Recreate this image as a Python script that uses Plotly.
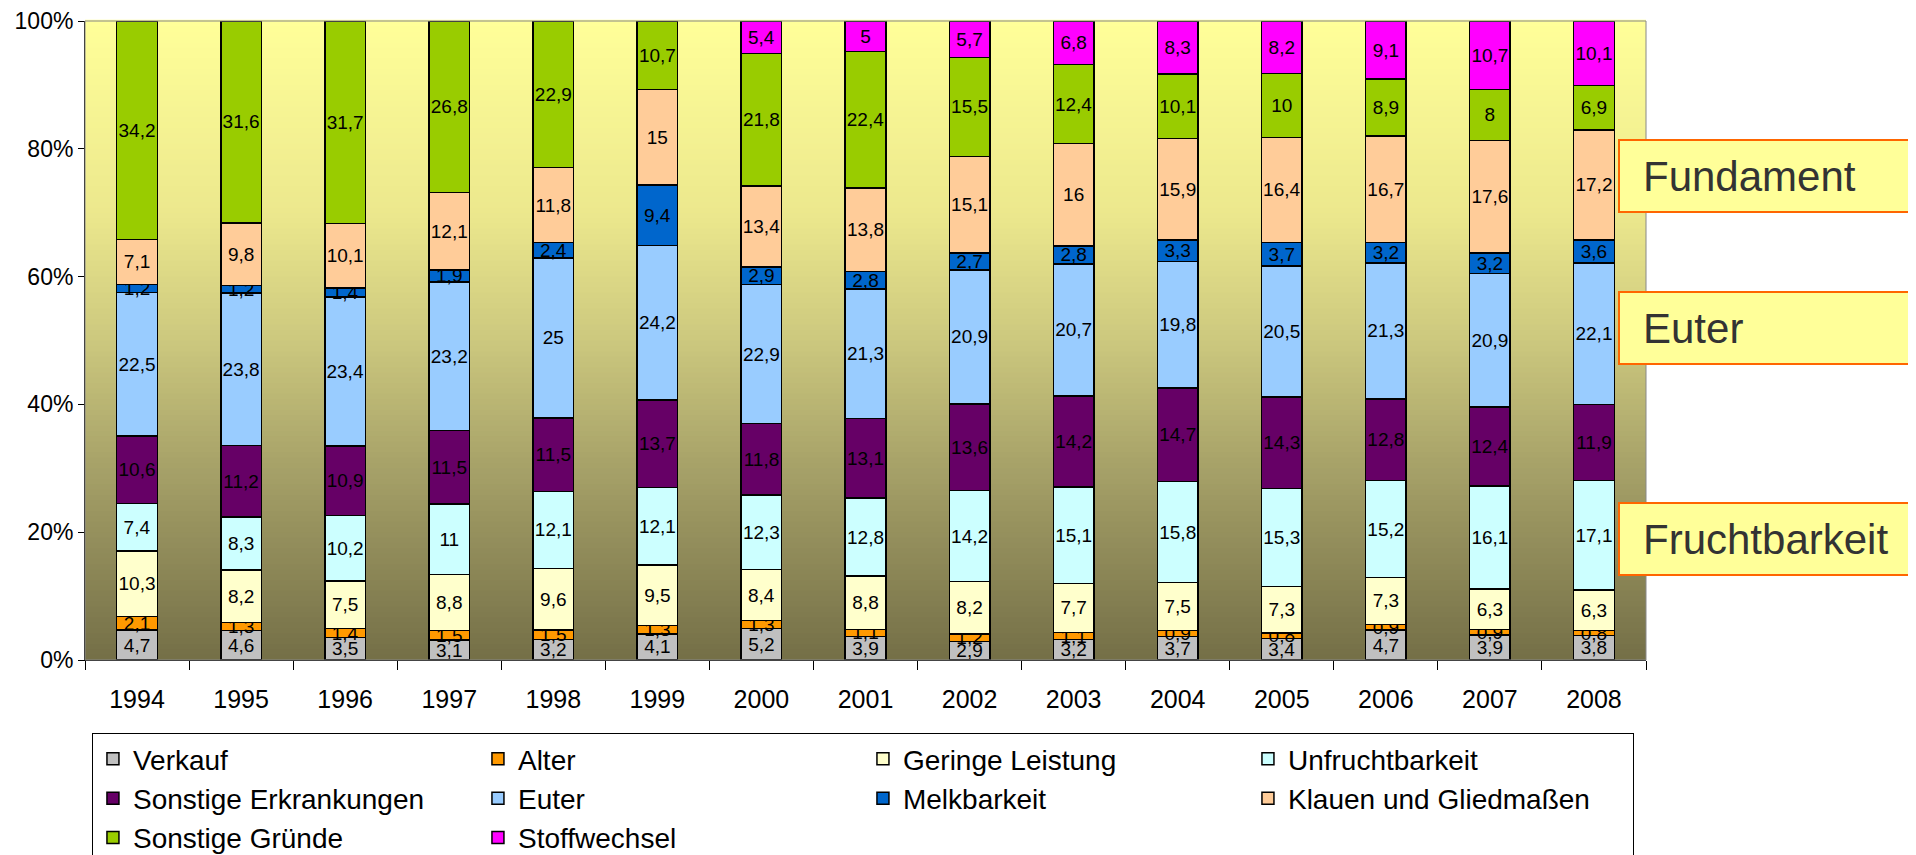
import plotly.graph_objects as go

years = ["1994", "1995", "1996", "1997", "1998", "1999", "2000", "2001",
         "2002", "2003", "2004", "2005", "2006", "2007", "2008"]

verkauf = [4.7, 4.6, 3.5, 3.1, 3.2, 4.1, 5.2, 3.9, 2.9, 3.2, 3.7, 3.4, 4.7, 3.9, 3.8]
alter = [2.1, 1.3, 1.4, 1.5, 1.5, 1.3, 1.3, 1.1, 1.2, 1.1, 0.9, 0.8, 0.9, 0.9, 0.8]
geringe_leistung = [10.3, 8.2, 7.5, 8.8, 9.6, 9.5, 8.4, 8.8, 8.2, 7.7, 7.5, 7.3, 7.3, 6.3, 6.3]
unfruchtbarkeit = [7.4, 8.3, 10.2, 11, 12.1, 12.1, 12.3, 12.8, 14.2, 15.1, 15.8, 15.3, 15.2, 16.1, 17.1]
sonst_erkrankungen = [10.6, 11.2, 10.9, 11.5, 11.5, 13.7, 11.8, 13.1, 13.6, 14.2, 14.7, 14.3, 12.8, 12.4, 11.9]
euter = [22.5, 23.8, 23.4, 23.2, 25, 24.2, 22.9, 21.3, 20.9, 20.7, 19.8, 20.5, 21.3, 20.9, 22.1]
melkbarkeit = [1.2, 1.2, 1.4, 1.9, 2.4, 9.4, 2.9, 2.8, 2.7, 2.8, 3.3, 3.7, 3.2, 3.2, 3.6]
klauen = [7.1, 9.8, 10.1, 12.1, 11.8, 15, 13.4, 13.8, 15.1, 16, 15.9, 16.4, 16.7, 17.6, 17.2]
sonst_gruende = [34.2, 31.6, 31.7, 26.8, 22.9, 10.7, 21.8, 22.4, 15.5, 12.4, 10.1, 10, 8.9, 8, 6.9]
stoffwechsel = [0, 0, 0, 0, 0, 0, 5.4, 5, 5.7, 6.8, 8.3, 8.2, 9.1, 10.7, 10.1]

series = [
    ("Verkauf", verkauf, "#C0C0C0"),
    ("Alter", alter, "#FF9900"),
    ("Geringe Leistung", geringe_leistung, "#FFFFCC"),
    ("Unfruchtbarkeit", unfruchtbarkeit, "#CCFFFF"),
    ("Sonstige Erkrankungen", sonst_erkrankungen, "#660066"),
    ("Euter", euter, "#99CCFF"),
    ("Melkbarkeit", melkbarkeit, "#0066CC"),
    ("Klauen und Gliedmaßen", klauen, "#FFCC99"),
    ("Sonstige Gründe", sonst_gruende, "#99CC00"),
    ("Stoffwechsel", stoffwechsel, "#FF00FF"),
]

FONT = "Liberation Sans, Arial, sans-serif"


def label(v):
    # german decimal comma, nothing for empty segments
    if not v:
        return ""
    return f"{v:g}".replace(".", ",")


fig = go.Figure()
for name, vals, color in series:
    fig.add_trace(go.Bar(
        x=years, y=vals, name=name,
        marker=dict(color=color, line=dict(color="black", width=1.5)),
        text=[label(v) for v in vals],
        textposition="inside", insidetextanchor="middle",
        textangle=0, constraintext="none",
        textfont=dict(family=FONT, size=19, color="black"),
    ))

# background gradient of the plot area (yellow at top, olive at bottom)
stops = [(0.0, (0x74, 0x6F, 0x47)), (0.3, (0xA6, 0xA1, 0x68)), (0.5, (0xCC, 0xC8, 0x7E)),
         (0.7, (0xEC, 0xE8, 0x8D)), (1.0, (0xFF, 0xFF, 0x99))]


def grad(t):
    for (t0, c0), (t1, c1) in zip(stops[:-1], stops[1:]):
        if t0 <= t <= t1:
            f = (t - t0) / (t1 - t0)
            return "rgb(%d,%d,%d)" % tuple(round(a + (b - a) * f) for a, b in zip(c0, c1))
    return "rgb(255,255,153)"


n = 120
shapes = []
for i in range(n):
    shapes.append(dict(type="rect", xref="paper", yref="paper", x0=0, x1=1,
                       y0=i / n, y1=(i + 1) / n + 0.002, layer="below",
                       line=dict(width=0), fillcolor=grad((i + 0.5) / n)))
shapes.append(dict(type="rect", xref="paper", yref="paper", x0=0, x1=1, y0=0, y1=1,
                   layer="above", line=dict(color="#888888", width=1)))

boxes = [("Fundament", 0.7574), ("Euter", 0.5203), ("Fruchtbarkeit", 0.1886)]
annotations = []
for txt, yy in boxes:
    annotations.append(dict(
        text="\u2002" + txt, xref="paper", yref="paper", x=0.982, y=yy,
        xanchor="left", yanchor="middle", showarrow=False, align="left",
        width=285, height=66, bgcolor="#FFFF99", bordercolor="#FF6600",
        borderwidth=2, borderpad=2,
        font=dict(family=FONT, size=42, color="#333333"),
    ))

# the page body adds an 8px offset, so the figure is a bit smaller than the window
fig.update_layout(
    barmode="stack", barnorm="percent", bargap=0.61,
    width=1908, height=847,
    margin=dict(l=77, r=270, t=13, b=195, autoexpand=False),
    paper_bgcolor="white", plot_bgcolor="rgba(0,0,0,0)",
    shapes=shapes, annotations=annotations,
    uniformtext=dict(minsize=19, mode="show"),
    legend=dict(orientation="h", xref="container", yref="container",
                x=0.044, y=0.144, xanchor="left", yanchor="top",
                entrywidth=340, entrywidthmode="pixels", traceorder="normal",
                font=dict(family=FONT, size=28, color="black"),
                bgcolor="white", bordercolor="black", borderwidth=1),
    font=dict(family=FONT, color="black"),
)
fig.update_xaxes(showline=True, linecolor="black", linewidth=1, ticks="outside",
                 tickson="boundaries", ticklen=9, tickcolor="black",
                 ticklabelstandoff=17, tickfont=dict(size=25), showgrid=False)
fig.update_yaxes(range=[0, 100], dtick=20, ticksuffix="%", showline=True,
                 linecolor="black", linewidth=1, ticks="outside", ticklen=6,
                 tickcolor="black", tickfont=dict(size=23), showgrid=False,
                 zeroline=False)

fig.write_html("out.html")
